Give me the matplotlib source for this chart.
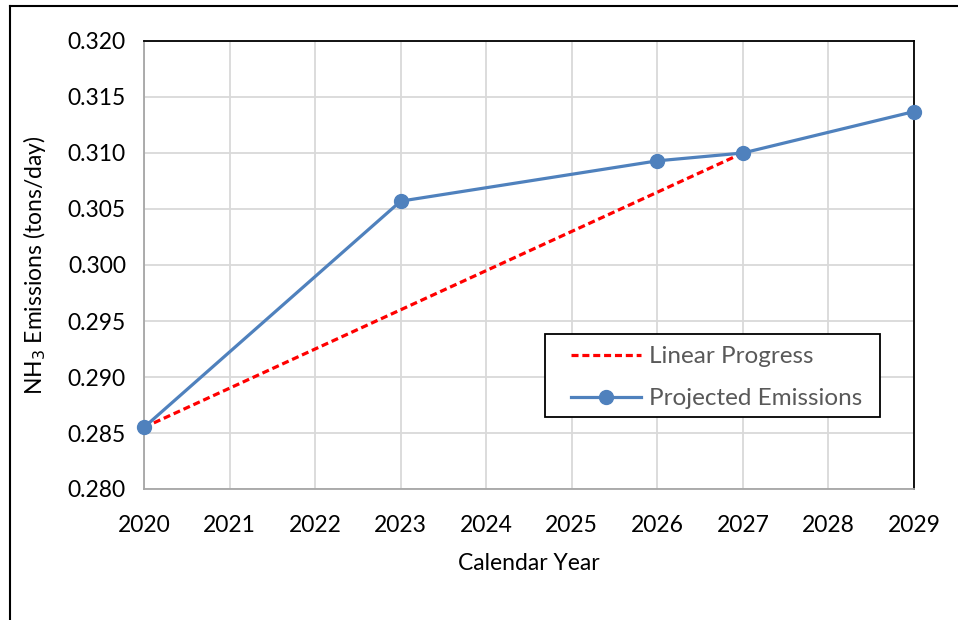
import matplotlib.pyplot as plt
from matplotlib.lines import Line2D
from matplotlib.patches import Rectangle

years = [2020, 2023, 2026, 2027, 2029]
projected = [0.2855, 0.3057, 0.3093, 0.3100, 0.3137]
linear_years = [2020, 2027]
linear = [0.2855, 0.3100]
year_ticks = list(range(2020, 2030))
y_ticks = [0.280, 0.285, 0.290, 0.295, 0.300, 0.305, 0.310, 0.315, 0.320]

plt.rcParams['font.family'] = ['Lato', 'DejaVu Sans']

W, H = 958, 620
fig = plt.figure(figsize=(W/100, H/100), dpi=100)
ax = fig.add_axes([144/W, 1-489/H, (914-144)/W, (489-41)/H])

# outer chart frame (only left and top edges are inside the picture)
fig.add_artist(Line2D([10/W, 10/W], [0, 1-6/H], color='black', lw=1.5, transform=fig.transFigure))
fig.add_artist(Line2D([10/W, 1], [1-6/H, 1-6/H], color='black', lw=1.5, transform=fig.transFigure))

ax.plot(linear_years, linear, color='#ff0000', lw=2.3, ls=(0, (2.2, 1.2)), label='Linear Progress', zorder=3)
ax.plot(years, projected, color='#4f81bd', lw=2.3, marker='o', ms=10, label='Projected Emissions', zorder=4, clip_on=False)

ax.set_xlim(2020, 2029)
ax.set_ylim(0.280, 0.320)
ax.set_xticks(year_ticks)
ax.set_yticks(y_ticks)
ax.set_yticklabels([f'{v:.3f}' for v in y_ticks])
ax.grid(True, color='#d9d9d9', lw=1.3)
ax.set_axisbelow(True)
ax.tick_params(length=0, labelsize=16.5, pad=13)
ax.tick_params(axis='x', pad=19)
for s in ['left', 'bottom']:
    ax.spines[s].set_color('#a6a6a6')
    ax.spines[s].set_linewidth(1.3)
for s in ['top', 'right']:
    ax.spines[s].set_color('black')
    ax.spines[s].set_linewidth(1.3)

ax.set_xlabel('Calendar Year', fontsize=16.5, labelpad=12)
ax.set_ylabel('NH$_3$ Emissions (tons/day)', fontsize=16.5, labelpad=14)

# legend box drawn separately so the inner padding can match
def ax_pt(px, py):
    return ((px-144)/770, (489-py)/448)

x0, y0 = ax_pt(545, 417)
x1, y1 = ax_pt(880, 334)
ax.add_patch(Rectangle((x0, y0), x1-x0, y1-y0, transform=ax.transAxes, fill=True,
                       facecolor='white', edgecolor='black', lw=1.3, zorder=5))
leg = ax.legend(loc='upper left', bbox_to_anchor=ax_pt(571, 346), frameon=False,
                fontsize=17.5, handlelength=2.9, handletextpad=0.3, labelspacing=0.88,
                labelcolor='#595959', borderaxespad=0, borderpad=0)
leg.set_zorder(6)

fig.savefig('out.png', dpi=100)
